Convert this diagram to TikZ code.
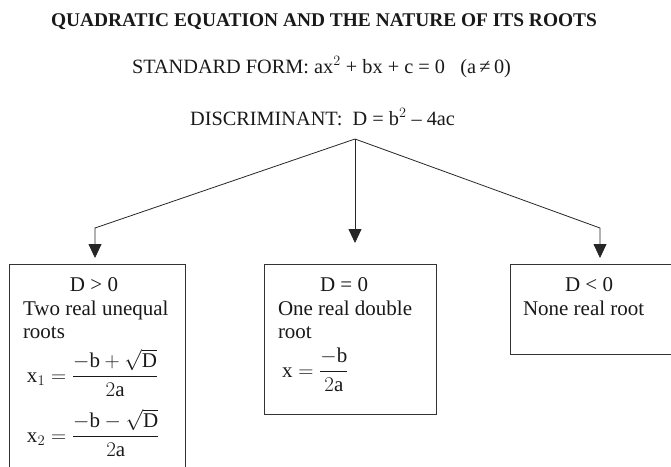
\RequirePackage{fix-cm}
\documentclass[tikz,border=0pt]{standalone}
\usepackage{fontspec}
\setmainfont{Liberation Serif}
\usepackage{amsmath}
\usepackage{graphicx}
\usetikzlibrary{arrows.meta}
\begin{document}
\begin{tikzpicture}[x=1pt,y=-1pt,
  every node/.style={inner sep=0pt, outer sep=0pt, text=black!90},
  boxstyle/.style={draw=black!80, line width=0.9pt},
  conn/.style={draw=black!85, line width=0.8pt},
  arr/.style={conn, -{Triangle[length=14pt,width=13pt]}},
  bodytxt/.style={font=\fontsize{21}{24}\selectfont, anchor=base west},
  bodyctr/.style={font=\fontsize{21}{24}\selectfont, anchor=base},
  hdr/.style={font=\fontsize{20.3}{24}\selectfont},
  titlestyle/.style={font=\bfseries\fontsize{19.4}{23}\selectfont, anchor=base west}
]
\useasboundingbox (0,0) rectangle (671,466);
\clip (0,0) rectangle (671,466);

% headings
\node[titlestyle] (title) at (51,26) {QUADRATIC EQUATION AND THE NATURE OF ITS ROOTS};
\node[hdr, anchor=base west] (std) at (132,73) {STANDARD FORM: ax$^2$ + bx + c = 0 \ \ (a\,≠\,0)};
\node[hdr, anchor=base east] (disc) at (455,125) {DISCRIMINANT:\ \ D = b$^2$ – 4ac};

% boxes
\node[boxstyle, minimum width=176pt, minimum height=230pt, anchor=north west] (lbox) at (9,264) {};
\node[boxstyle, minimum width=172pt, minimum height=150pt, anchor=north west] (mbox) at (264,264) {};
\node[boxstyle, minimum width=200pt, minimum height=90pt, anchor=north west] (rbox) at (510,264) {};

% connectors
\coordinate (apex) at (355,139);
\coordinate (lc) at (95,228);
\coordinate (rc) at (600,228);
\coordinate (ltip) at (95,258);
\coordinate (mtip) at (355,243);
\coordinate (rtip) at (600,258);
\draw[arr] (apex) -- (lc) -- (ltip);
\draw[arr] (apex) -- (mtip);
\draw[arr] (apex) -- (rc) -- (rtip);

% left box text
\node[bodyctr] (lcond) at (94,291) {D > 0};
\node[bodytxt] (ltxt1) at (23,315) {Two real unequal};
\node[bodytxt] (ltxt2) at (23,338) {roots};
\node[bodytxt] (x1) at (27,382) {$\mathrm{x}_1 = \dfrac{-\mathrm{b}+\sqrt{\mathrm{D}}}{2\mathrm{a}}$};
\node[bodytxt] (x2) at (27,442) {$\mathrm{x}_2 = \dfrac{-\mathrm{b}-\sqrt{\mathrm{D}}}{2\mathrm{a}}$};

% middle box text
\node[bodyctr] (mcond) at (344,291) {D = 0};
\node[bodytxt] (mtxt1) at (278,315) {One real double};
\node[bodytxt] (mtxt2) at (278,338) {root};
\node[bodytxt] (x0) at (282,377) {$\mathrm{x} = \dfrac{-\mathrm{b}}{2\mathrm{a}}$};

% right box text
\node[bodyctr] (rcond) at (589,291) {D < 0};
\node[bodytxt] (rtxt1) at (523,315) {None real root};
\end{tikzpicture}
\end{document}
